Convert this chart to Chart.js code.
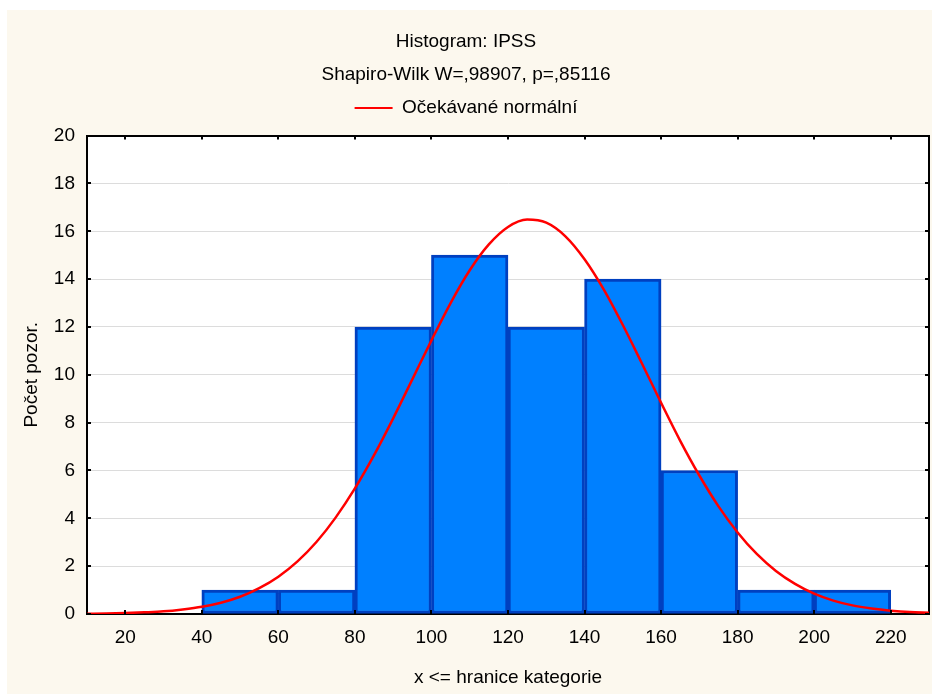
<!DOCTYPE html>
<html>
<head>
<meta charset="utf-8">
<title>Histogram: IPSS</title>
<script src="https://cdn.jsdelivr.net/npm/chart.js@4.4.1/dist/chart.umd.min.js"></script>
<style>
  html, body { margin: 0; padding: 0; background: #ffffff; }
  canvas { display: block; }
</style>
</head>
<body>
<canvas id="histChart" width="932" height="694"></canvas>
<script>
// histogram bins (upper bound of each class) and observed counts
const binUpper = [60, 80, 100, 120, 140, 160, 180, 200, 220];
const binCounts = [1, 1, 12, 15, 12, 14, 6, 1, 1];
const binWidth = 20;

// expected normal curve, sampled every 5 units
const curveX = [10, 15, 20, 25, 30, 35, 40, 45, 50, 55, 60, 65, 70, 75, 80, 85, 90, 95, 100, 105, 110, 115,
                120, 125, 130, 135, 140, 145, 150, 155, 160, 165, 170, 175, 180, 185, 190, 195, 200, 205, 210,
                215, 220, 225, 230];
const curveY = [0.01, 0.02, 0.04, 0.07, 0.11, 0.19, 0.30, 0.47, 0.72, 1.08, 1.56, 2.20, 3.02, 4.04, 5.25,
                6.64, 8.18, 9.81, 11.44, 13.00, 14.37, 15.45, 16.18, 16.49, 16.36, 15.79, 14.83, 13.57, 12.08,
                10.47, 8.83, 7.24, 5.79, 4.50, 3.41, 2.51, 1.80, 1.26, 0.85, 0.56, 0.36, 0.23, 0.14, 0.08, 0.05];

// axis ticks
const xTicks = [20, 40, 60, 80, 100, 120, 140, 160, 180, 200, 220];
const yTicks = [0, 2, 4, 6, 8, 10, 12, 14, 16, 18, 20];

Chart.defaults.font.family = '"Liberation Sans", Arial, sans-serif';
Chart.defaults.font.size = 19;
Chart.defaults.color = '#000000';

// cream page + white plot area
const backdrop = {
    id: 'backdrop',
    beforeDraw(chart) {
        const {ctx, chartArea: a, width, height} = chart;
        ctx.save();
        ctx.fillStyle = '#ffffff';
        ctx.fillRect(0, 0, width, height);
        ctx.fillStyle = '#fcf8ee';
        ctx.fillRect(7, 10, width - 7, height - 10);
        ctx.fillStyle = '#ffffff';
        ctx.fillRect(a.left, a.top, a.right - a.left, a.bottom - a.top);
        ctx.restore();
    }
};

// small tick marks pointing into the plot on all four sides
const innerTicks = {
    id: 'innerTicks',
    afterDraw(chart) {
        const {ctx, chartArea: a, scales} = chart;
        const len = 4;
        ctx.save();
        ctx.strokeStyle = '#000000';
        ctx.lineWidth = 2;
        ctx.beginPath();
        xTicks.forEach(v => {
            const px = Math.round(scales.x.getPixelForValue(v));
            ctx.moveTo(px, a.bottom); ctx.lineTo(px, a.bottom - len);
            ctx.moveTo(px, a.top); ctx.lineTo(px, a.top + len);
        });
        yTicks.forEach(v => {
            const py = Math.round(scales.y.getPixelForValue(v));
            ctx.moveTo(a.left, py); ctx.lineTo(a.left + len, py);
            ctx.moveTo(a.right, py); ctx.lineTo(a.right - len, py);
        });
        ctx.stroke();
        ctx.restore();
    }
};

const frameBorder = {color: '#000000', width: 2};

const config = {
    type: 'bar',
    data: {
        datasets: [{
            type: 'bar',
            label: 'IPSS',
            data: binUpper.map((u, i) => ({x: u - binWidth / 2, y: binCounts[i]})),
            backgroundColor: '#0080ff',
            borderColor: '#0040c0',
            borderWidth: 3,
            borderSkipped: false,
            barPercentage: 1.0,
            categoryPercentage: 1.0,
            order: 2
        }, {
            type: 'line',
            label: 'Očekávané normální',
            data: curveX.map((x, i) => ({x: x, y: curveY[i]})),
            borderColor: '#ff0000',
            backgroundColor: '#ff0000',
            borderWidth: 2.5,
            pointRadius: 0,
            fill: false,
            cubicInterpolationMode: 'monotone',
            order: 1
        }]
    },
    options: {
        responsive: false,
        animation: false,
        layout: {padding: {top: 0, right: 0, bottom: 0, left: 0}},
        plugins: {
            title: {
                display: true,
                text: 'Histogram: IPSS',
                font: {size: 19, weight: 'normal'},
                padding: {top: 30, bottom: 0}
            },
            subtitle: {
                display: true,
                text: 'Shapiro-Wilk W=,98907, p=,85116',
                font: {size: 19, weight: 'normal'},
                color: '#000000',
                padding: {top: 11, bottom: 2}
            },
            legend: {
                display: true,
                position: 'top',
                labels: {
                    boxWidth: 38,
                    boxHeight: 2,
                    padding: 10,
                    font: {size: 19},
                    filter: item => item.datasetIndex === 1,
                    generateLabels: function (chart) {
                        const items = Chart.defaults.plugins.legend.labels.generateLabels(chart);
                        return items.map(it => Object.assign(it, {lineWidth: 0, fillStyle: '#ff0000'}));
                    }
                }
            },
            tooltip: {enabled: false}
        },
        scales: {
            x: {
                type: 'linear',
                position: 'bottom',
                min: 10,
                max: 230,
                offset: false,
                afterBuildTicks: s => { s.ticks = xTicks.map(v => ({value: v})); },
                afterFit: s => { s.height = 80; },
                ticks: {padding: 12, autoSkip: false, maxRotation: 0},
                grid: {display: false, drawTicks: false},
                border: frameBorder,
                title: {
                    display: true,
                    text: 'x <= hranice kategorie',
                    font: {size: 19},
                    padding: {top: 0, bottom: 5}
                }
            },
            y: {
                type: 'linear',
                position: 'left',
                min: 0,
                max: 20,
                afterBuildTicks: s => { s.ticks = yTicks.map(v => ({value: v})); },
                afterFit: s => { s.width = 87; },
                ticks: {padding: 12},
                grid: {color: '#dcdcdc', lineWidth: 1, drawTicks: false},
                border: frameBorder,
                title: {
                    display: true,
                    text: 'Počet pozor.',
                    font: {size: 19},
                    padding: {top: 20, bottom: 0}
                }
            },
            // top and right edges of the plot frame
            x2: {
                type: 'linear',
                position: 'top',
                min: 10,
                max: 230,
                display: true,
                afterFit: s => { s.height = 8; },
                ticks: {display: false},
                grid: {display: false, drawTicks: false},
                border: frameBorder
            },
            y2: {
                type: 'linear',
                position: 'right',
                min: 0,
                max: 20,
                display: true,
                afterFit: s => { s.width = 3; },
                ticks: {display: false},
                grid: {display: false, drawTicks: false},
                border: frameBorder
            }
        }
    },
    plugins: [backdrop, innerTicks]
};

const ctx = document.getElementById('histChart').getContext('2d');
new Chart(ctx, config);
</script>
</body>
</html>
